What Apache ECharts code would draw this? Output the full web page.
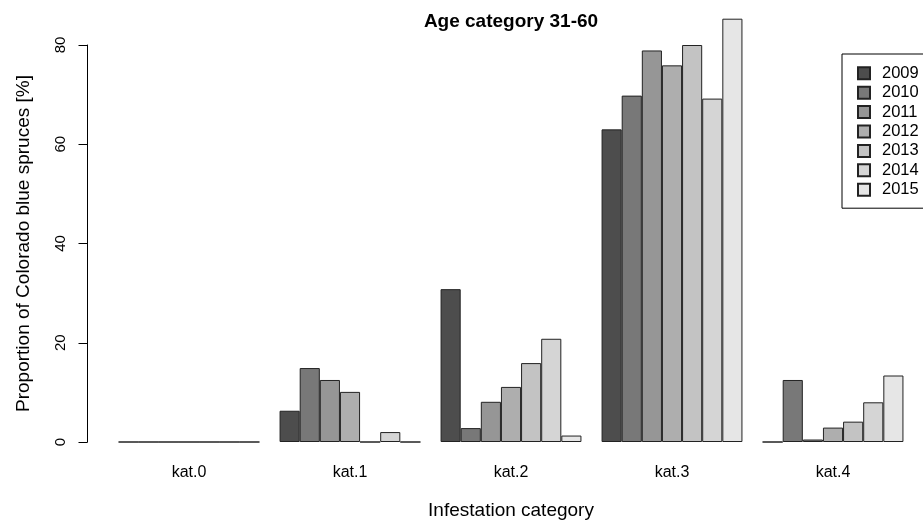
<!DOCTYPE html>
<html>
<head>
<meta charset="utf-8">
<title>Age category 31-60</title>
<script src="https://cdn.jsdelivr.net/npm/echarts@6/dist/echarts.min.js"></script>
<style>
  html, body { margin: 0; padding: 0; background: #fff; }
  #chart { width: 923px; height: 520px; }
</style>
</head>
<body>
<div id="chart"></div>
<script>
// Infestation categories on the x axis
const categories = ['kat.0', 'kat.1', 'kat.2', 'kat.3', 'kat.4'];
// Survey years, one bar per year in each category
const years = ['2009', '2010', '2011', '2012', '2013', '2014', '2015'];
// Share of trees (%) per category, one array per year
const y2009 = [0, 6.3, 30.8, 63.0, 0];
const y2010 = [0, 14.9, 2.8, 69.8, 12.5];
const y2011 = [0, 12.5, 8.1, 78.9, 0.5];
const y2012 = [0, 10.1, 11.1, 75.9, 2.9];
const y2013 = [0, 0, 15.9, 80.0, 4.1];
const y2014 = [0, 2.0, 20.8, 69.2, 8.0];
const y2015 = [0, 0, 1.3, 85.3, 13.4];
const yearValues = [y2009, y2010, y2011, y2012, y2013, y2014, y2015];
// Grey ramp from dark to light
const greys = ['#4d4d4d', '#787878', '#969696', '#aeaeae', '#c3c3c3', '#d5d5d5', '#e6e6e6'];
// Value axis ticks
const yTicks = [0, 20, 40, 60, 80];

const FONT = '"Liberation Sans", Arial, Helvetica, sans-serif';

const chart = echarts.init(document.getElementById('chart'), null, { renderer: 'canvas' });

const series = years.map((yr, i) => ({
  name: yr,
  type: 'bar',
  data: yearValues[i],
  barGap: '0%',
  barCategoryGap: '12.5%',
  clip: false,
  itemStyle: { color: greys[i], borderColor: '#222', borderWidth: 1 },
  emphasis: { disabled: true },
  animation: false
}));

chart.setOption({
  animation: false,
  backgroundColor: '#fff',
  textStyle: { fontFamily: FONT },
  title: {
    text: 'Age category 31-60',
    left: 511,
    top: 12,
    padding: 0,
    textAlign: 'center',
    textStyle: { fontFamily: FONT, fontSize: 19, fontWeight: 'bold', color: '#000' }
  },
  legend: {
    data: years,
    orient: 'vertical',
    left: 842,
    top: 54,
    padding: [10.8, 20, 10, 15],
    itemWidth: 12,
    itemHeight: 12,
    itemGap: 2.4,
    icon: 'rect',
    borderColor: '#000',
    borderWidth: 1,
    backgroundColor: '#fff',
    selectedMode: false,
    textStyle: { fontFamily: FONT, fontSize: 16.5, color: '#000', padding: [0, 0, 0, 7] }
  },
  grid: { left: 108.5, right: 9.5, top: 45, bottom: 78, containLabel: false, outerBoundsMode: 'none' },
  xAxis: {
    type: 'category',
    data: categories,
    name: 'Infestation category',
    nameLocation: 'middle',
    nameGap: 59,
    nameTextStyle: { fontFamily: FONT, fontSize: 19, color: '#000' },
    axisLine: { show: false },
    axisTick: { show: false },
    axisLabel: { fontFamily: FONT, fontSize: 16, color: '#000', margin: 23 },
    splitLine: { show: false }
  },
  yAxis: {
    type: 'value',
    min: yTicks[0],
    max: yTicks[yTicks.length - 1],
    interval: 20,
    offset: 21,
    name: 'Proportion of Colorado blue spruces [%]',
    nameLocation: 'middle',
    nameGap: 54,
    nameTextStyle: { fontFamily: FONT, fontSize: 19, color: '#000' },
    axisLine: { show: true, lineStyle: { color: '#000', width: 1 } },
    axisTick: { show: true, length: 9, lineStyle: { color: '#000', width: 1 } },
    axisLabel: { fontFamily: FONT, fontSize: 15, color: '#000', rotate: 90, margin: 19 },
    splitLine: { show: false }
  },
  series: series
});
</script>
</body>
</html>
